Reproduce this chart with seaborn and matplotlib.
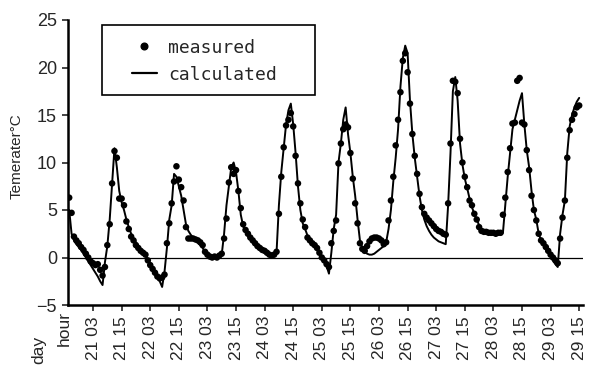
import matplotlib
matplotlib.use("Agg")
import matplotlib.pyplot as plt
from matplotlib.patches import Rectangle
from matplotlib.lines import Line2D
import seaborn as sns
import pandas as pd

# ---- data (hours counted from day 21, 00:00) ----
hours = list(range(-7, 208))

calculated = (
    [5.0, 2.5, 1.8, 1.4, 1.1, 0.8, 0.4, 0.0, -0.4, -0.8, -1.2, -1.6, -2.0, -2.5, -2.9]
    + [-0.5, 1.2, 4.0, 7.8, 11.5, 9.5, 7.0, 5.8, 5.0, 4.0, 3.2, 2.5, 2.0, 1.6, 1.2, 0.9, 0.5, 0.2, -0.2, -0.6, -1.0, -1.5, -2.0, -2.5, -3.1]
    + [-1.5, 1.0, 4.0, 5.5, 8.8, 8.5, 7.5, 6.5, 5.0, 3.5, 2.8, 2.4, 2.1, 1.8, 1.6, 1.3, 1.0, 0.6, 0.3, 0.1, 0.0, 0.0, 0.0, 0.1, 0.3]
    + [2.5, 5.5, 7.5, 9.5, 10.0, 9.0, 7.0, 4.5, 3.3, 2.7, 2.3, 2.0, 1.7, 1.4, 1.1, 0.9, 0.7, 0.5, 0.3, 0.2, 0.1, 0.2, 0.5]
    + [5.5, 9.0, 11.5, 14.0, 15.5, 16.2, 14.0, 11.0, 7.5, 5.0, 3.6, 3.0, 2.3, 1.9, 1.5, 1.2, 0.8, 0.4, 0.0, -0.4, -0.9, -1.7, 0.5]
    + [3.0, 4.5, 10.0, 12.0, 14.5, 15.8, 13.0, 11.0, 8.5, 6.5, 4.0, 1.8, 1.0, 0.6, 0.4, 0.3, 0.3, 0.4, 0.6, 0.8, 1.0, 1.2, 1.6]
    + [3.0, 5.0, 8.0, 10.5, 13.5, 18.0, 21.0, 22.3, 21.5, 16.5, 13.0, 10.5, 8.5, 6.5, 5.0, 4.0, 3.3, 2.8, 2.4, 2.1, 1.9, 1.7, 1.6, 1.5, 1.4]
    + [5.5, 11.0, 17.5, 19.0, 16.5, 12.0, 9.8, 8.3, 7.3, 6.2, 5.3, 4.6, 4.0, 3.4, 3.0, 2.8, 2.7, 2.6, 2.6, 2.5, 2.5, 2.5, 2.4, 2.6]
    + [5.5, 8.5, 11.0, 13.5, 14.5, 15.5, 16.5, 17.3, 14.0, 11.3, 9.5, 7.0, 5.0, 4.0, 2.5, 1.8, 1.4, 1.0, 0.6, 0.2, -0.3, -0.7, -1.0]
    + [2.5, 4.5, 6.0, 11.0, 13.8, 15.0, 15.8, 16.4, 16.8]
)

measured = (
    [6.3, 4.7, 2.2, 1.8, 1.5, 1.1, 0.8, 0.4, 0.0, -0.4, -0.6, -0.8, -0.7, -1.3, -1.9]
    + [-1.0, 1.3, 3.5, 7.8, 11.2, 10.5, 6.2, 6.2, 5.5, 3.8, 3.0, 2.2, 1.8, 1.3, 1.0, 0.7, 0.5, 0.3, -0.3, -0.8, -1.2, -1.6, -2.0, -2.2, -2.1]
    + [-1.8, 1.5, 3.6, 5.7, 8.0, 9.6, 8.2, 7.4, 6.0, 3.2, 2.0, 2.0, 2.0, 1.9, 1.8, 1.6, 1.3, 0.6, 0.3, 0.1, 0.0, 0.1, 0.0, 0.2, 0.4]
    + [2.0, 4.1, 7.9, 9.5, 8.8, 9.2, 7.0, 5.2, 3.5, 2.9, 2.5, 2.1, 1.8, 1.5, 1.2, 1.0, 0.8, 0.7, 0.5, 0.3, 0.2, 0.3, 0.6]
    + [4.6, 8.5, 11.6, 13.9, 14.5, 15.2, 13.8, 10.7, 7.8, 5.7, 4.0, 3.2, 2.1, 1.8, 1.5, 1.3, 1.0, 0.5, 0.0, -0.3, -0.7, -1.0, 1.5]
    + [2.8, 3.9, 9.9, 12.0, 13.5, 14.0, 13.7, 11.0, 8.3, 5.7, 3.6, 1.5, 0.9, 0.7, 1.2, 1.7, 2.0, 2.1, 2.1, 2.0, 1.8, 1.4, 1.6]
    + [3.9, 6.0, 8.5, 11.8, 14.5, 17.4, 20.7, 21.5, 19.5, 16.2, 13.0, 10.7, 8.8, 6.7, 5.3, 4.6, 4.2, 3.9, 3.6, 3.3, 3.0, 2.8, 2.7, 2.5, 2.4]
    + [5.7, 12.0, 18.6, 18.5, 17.3, 12.5, 10.0, 8.5, 7.4, 6.0, 5.5, 4.6, 4.0, 3.2, 2.8, 2.7, 2.7, 2.6, 2.6, 2.6, 2.5, 2.6, 2.6, 4.5]
    + [6.3, 9.0, 11.5, 14.1, 14.2, 18.6, 18.9, 14.2, 14.0, 11.3, 9.2, 6.5, 5.0, 3.9, 2.5, 1.8, 1.5, 1.1, 0.7, 0.3, 0.0, -0.3, -0.6]
    + [2.0, 4.2, 6.0, 10.5, 13.4, 14.5, 15.1, 15.8, 16.0]
)

tick_hours = list(range(3, 208, 12))
tick_labels = ["21 03", "21 15", "22 03", "22 15", "23 03", "23 15", "24 03", "24 15",
               "25 03", "25 15", "26 03", "26 15", "27 03", "27 15", "28 03", "28 15",
               "29 03", "29 15"]
y_ticks = [-5, 0, 5, 10, 15, 20, 25]

df = pd.DataFrame({"hour": hours, "calculated": calculated, "measured": measured})

# ---- figure ----
sns.set_style("ticks")
plt.rcParams["font.family"] = ["Liberation Sans", "DejaVu Sans"]

W, H = 589, 365
fig = plt.figure(figsize=(W / 100, H / 100), dpi=100)
ax = fig.add_axes([68 / W, 1 - 305 / H, (583 - 68) / W, (305 - 20) / H])

ax.axhline(0, color="black", lw=0.9, zorder=1)
sns.lineplot(data=df, x="hour", y="calculated", ax=ax, color="black", lw=1.4,
             estimator=None, sort=False, zorder=2)
sns.scatterplot(data=df, x="hour", y="measured", ax=ax, color="black", s=22,
                edgecolor="none", zorder=3)

ax.set_xlim(-7.5, 208.6)
ax.set_ylim(-5, 25)
ax.set_yticks(y_ticks)
ax.set_xticks(tick_hours)
ax.set_xticklabels(tick_labels, rotation=90, fontsize=12.5)
ax.tick_params(axis="y", labelsize=13, length=4, width=1.2, pad=4, direction="out")
ax.tick_params(axis="x", length=4, width=1.2, pad=4, direction="out")
ax.set_xlabel("")
ax.set_ylabel("")
for s in ["top", "right"]:
    ax.spines[s].set_visible(False)
for s in ["left", "bottom"]:
    ax.spines[s].set_linewidth(1.8)
    ax.spines[s].set_color("black")

fig.text(17 / W, 1 - 156 / H, "Temerater\u00b0C", rotation=90, ha="center", va="center", fontsize=11)
fig.text(39 / W, 1 - 350 / H, "day", rotation=90, ha="center", va="center", fontsize=12.5)
fig.text(64 / W, 1 - 328 / H, "hour", rotation=90, ha="center", va="center", fontsize=12.5)

# legend
fig.patches.append(Rectangle((102 / W, 1 - 95 / H), 213 / W, 70 / H, transform=fig.transFigure,
                             fill=False, edgecolor="black", lw=1.2))
handles = [Line2D([], [], color="black", marker="o", ls="none", markersize=4.8),
           Line2D([], [], color="black", lw=1.6)]
leg = ax.legend(handles, ["measured", "calculated"], loc="upper left",
                bbox_to_anchor=(119 / W, 1 - 26 / H), bbox_transform=fig.transFigure,
                frameon=False, prop={"family": "DejaVu Sans Mono", "size": 13},
                handlelength=1.4, handletextpad=0.6, labelspacing=0.5, borderpad=0.2)

fig.savefig("out.png", dpi=100)
